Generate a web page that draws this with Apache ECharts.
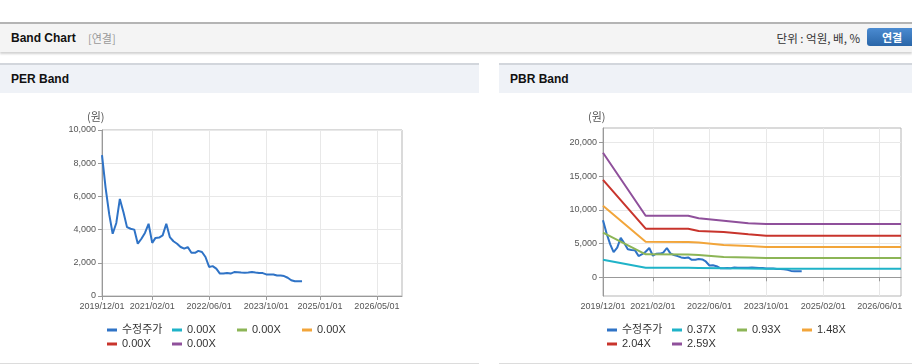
<!DOCTYPE html>
<html>
<head>
<meta charset="utf-8">
<script src="https://cdn.jsdelivr.net/npm/echarts@6/dist/echarts.min.js"></script>
<style>
body { margin: 0; width: 912px; height: 364px; overflow: hidden; background: #fff; position: relative;
  font-family: "Liberation Sans", "Noto Sans CJK KR", sans-serif; }
.top { position: absolute; left: 0; top: 22px; width: 912px; height: 28px; border-top: 2px solid #b4b4b4;
  background: #f4f4f4; box-shadow: 0 2px 2px rgba(0, 0, 0, 0.18); }
.top .title { position: absolute; left: 11px; top: 0; line-height: 28px; font-size: 12px; font-weight: bold; color: #111; }
.top .sub { position: absolute; left: 88px; top: 0; line-height: 28px; font-size: 11px; color: #999; font-family: "Noto Sans CJK KR", sans-serif; }
.top .unit { position: absolute; right: 52px; top: 0; line-height: 28px; font-size: 11.5px; color: #333; font-family: "Noto Sans CJK KR", sans-serif; }
.top .btn { position: absolute; left: 867px; top: 4px; width: 50px; height: 18px; border-radius: 3px;
  background: linear-gradient(#4b8bd1, #2a66a8); color: #fff; font-size: 11px; font-weight: bold;
  line-height: 18px; text-align: center; font-family: "Noto Sans CJK KR", sans-serif; }
.panel { position: absolute; top: 63px; height: 298px; border-top: 2px solid #d2d6dc; border-bottom: 1px solid #dcdcdc; }
.panel .hd { height: 28px; background: #eff2f7; font-size: 12px; font-weight: bold; line-height: 28px; padding-left: 11px; color: #111; }
#chart { position: absolute; left: 0; top: 0; width: 912px; height: 364px; z-index: 2; }
</style>
</head>
<body>
<div class="top">
  <span class="title">Band Chart</span><span class="sub">[연결]</span>
  <span class="unit">단위 : 억원, 배, %</span>
  <div class="btn">연결</div>
</div>
<div class="panel" style="left:0;width:479px"><div class="hd">PER Band</div></div>
<div class="panel" style="left:499px;width:413px"><div class="hd">PBR Band</div></div>
<div id="chart"></div>
<script>
// monthly adjusted price, starting 2019/12
const priceStart = [2019, 12]
const priceValues = [8490, 6500, 4900, 3750, 4400, 5850, 5050, 4150, 4050, 4000,
  3150, 3450, 3800, 4350, 3200, 3500, 3520, 3650, 4350, 3550,
  3300, 3150, 2950, 2850, 2950, 2600, 2600, 2720, 2650, 2350,
  1750, 1800, 1650, 1350, 1350, 1390, 1350, 1440, 1430, 1410,
  1400, 1410, 1450, 1420, 1390, 1380, 1300, 1290, 1300, 1240,
  1230, 1200, 1100, 950, 890, 890, 890]

// PBR band breakpoints
const bandDates = ['2019/12/01', '2020/12/01', '2021/12/01', '2022/03/01', '2022/10/01', '2023/05/01', '2023/10/01', '2026/12/01']
const pbr037 = [2620, 1430, 1400, 1380, 1330, 1300, 1260, 1260]
const pbr093 = [6630, 3420, 3400, 3300, 3020, 2950, 2870, 2870]
const pbr148 = [10640, 5290, 5250, 5170, 4800, 4640, 4500, 4500]
const pbr204 = [14460, 7220, 7200, 6880, 6720, 6390, 6180, 6180]
const pbr259 = [18510, 9150, 9150, 8770, 8410, 8020, 7900, 7900]

const perLegend = ['수정주가', '0.00X', '0.00X', '0.00X', '0.00X', '0.00X']
const pbrLegend = ['수정주가', '0.37X', '0.93X', '1.48X', '2.04X', '2.59X']
const perTicks = ['2019/12/01', '2021/02/01', '2022/06/01', '2023/10/01', '2025/01/01', '2026/05/01']
const pbrTicks = ['2019/12/01', '2021/02/01', '2022/06/01', '2023/10/01', '2025/02/01', '2026/06/01']
const pbrYTicks = [0, 5000, 10000, 15000, 20000]
const xMin = '2019/12/01'
const xMax = '2026/12/01'

const colors = ['#2f73c6', '#1fb3c8', '#8cb556', '#f2a53a', '#c8342c', '#8f509b']
const font = '"Liberation Sans", "Noto Sans CJK KR", sans-serif'

const ts = function (s) {
    const p = s.split('/').map(Number)
    return new Date(p[0], p[1] - 1, p[2]).getTime()
}
const pad = n => (n < 10 ? '0' : '') + n
const fmtDate = function (v) {
    const d = new Date(v)
    return d.getFullYear() + '/' + pad(d.getMonth() + 1) + '/' + pad(d.getDate())
}

const priceData = priceValues.map((v, i) => [new Date(priceStart[0], priceStart[1] - 1 + i, 1).getTime(), v])
const band = vals => vals.map((v, i) => [ts(bandDates[i]), v])
const pbrBands = [pbr037, pbr093, pbr148, pbr204, pbr259]

// x is a value axis holding timestamps, so the ticks can sit on the exact dates
const xAxisFor = function (grid, ticks) {
    const tv = ticks.map(ts)
    return {
        type: 'value', gridIndex: grid, min: ts(xMin), max: ts(xMax), scale: true,
        axisLine: { lineStyle: { color: '#999' } },
        axisTick: { show: true, length: 4, customValues: tv, lineStyle: { color: '#999' } },
        axisLabel: { customValues: tv, formatter: fmtDate, color: '#555', fontSize: 9, margin: 6, fontFamily: font, hideOverlap: false },
        splitLine: { show: true, lineStyle: { color: '#e8e8e8' } }
    }
}
const yBase = {
    axisLine: { show: true, lineStyle: { color: '#999' } },
    axisTick: { show: true, length: 4, lineStyle: { color: '#999' } },
    axisLabel: { color: '#555', fontSize: 9, margin: 6, fontFamily: font, formatter: v => v.toLocaleString('en-US') },
    splitLine: { show: true, lineStyle: { color: '#e8e8e8' } }
}
const legendFor = function (left, prefix, labels) {
    return {
        left: left, top: 323, width: 270, orient: 'horizontal', padding: 0,
        icon: 'rect', itemWidth: 10, itemHeight: 3, itemGap: 0,
        data: labels.map((l, i) => prefix + i),
        formatter: name => labels[Number(name.slice(prefix.length))],
        textStyle: { fontSize: 11, color: '#333', width: 50, lineHeight: 14, fontFamily: font }
    }
}

const series = []
perLegend.forEach((l, i) => {
    series.push({
        name: 'per' + i, type: 'line', xAxisIndex: 0, yAxisIndex: 0, showSymbol: false,
        color: colors[i], lineStyle: { width: 2 }, data: i === 0 ? priceData : []
    })
})
pbrLegend.forEach((l, i) => {
    series.push({
        name: 'pbr' + i, type: 'line', xAxisIndex: 1, yAxisIndex: 1, showSymbol: false,
        color: colors[i], lineStyle: { width: 2 }, z: i === 0 ? 1 : 2,
        data: i === 0 ? priceData : band(pbrBands[i - 1])
    })
})

const chart = echarts.init(document.getElementById('chart'))
chart.setOption({
    animation: false,
    grid: [
        { left: 102, right: 510, top: 130, bottom: 68, show: true, borderColor: '#b5b5b5' },
        { left: 603, right: 11, top: 128, bottom: 68, show: true, borderColor: '#b5b5b5' }
    ],
    xAxis: [xAxisFor(0, perTicks), xAxisFor(1, pbrTicks)],
    yAxis: [
        Object.assign({ type: 'value', gridIndex: 0, min: 0, max: 10000, interval: 2000 }, yBase),
        Object.assign({}, yBase, {
            type: 'value', gridIndex: 1, min: -2780, max: 22180,
            axisTick: Object.assign({}, yBase.axisTick, { customValues: pbrYTicks }),
            axisLabel: Object.assign({}, yBase.axisLabel, { customValues: pbrYTicks })
        })
    ],
    legend: [legendFor(107, 'per', perLegend), legendFor(607, 'pbr', pbrLegend)],
    graphic: [
        { type: 'text', left: 87, top: 111, style: { text: '(원)', fill: '#555', font: '11px "Noto Sans CJK KR"' } },
        { type: 'text', left: 588, top: 111, style: { text: '(원)', fill: '#555', font: '11px "Noto Sans CJK KR"' } }
    ],
    series
})
</script>
</body>
</html>
